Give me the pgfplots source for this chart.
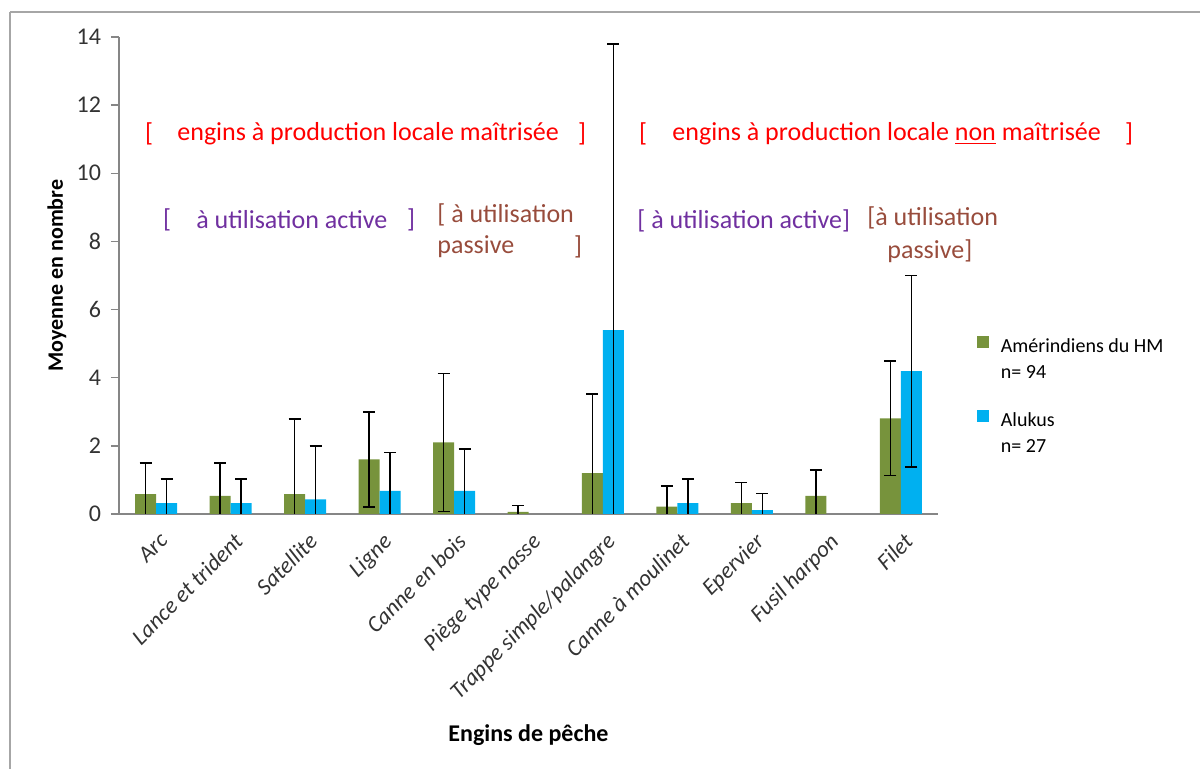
\documentclass[border=0pt]{standalone}
\usepackage{fontspec}
\setmainfont{Carlito}
\usepackage{pgfplots}
\pgfplotsset{compat=1.18}
\definecolor{cgreen}{HTML}{77933C}
\definecolor{cblue}{HTML}{00B0F0}
\definecolor{cred}{HTML}{FF0000}
\definecolor{cpurple}{HTML}{7030A0}
\definecolor{cbrown}{HTML}{984C3C}
\definecolor{caxis}{HTML}{868686}
\definecolor{cframe}{HTML}{A6A6A6}
\begin{document}
\begin{tikzpicture}
\useasboundingbox (0pt,0pt) rectangle (600pt,-384.5pt);
\begin{axis}[
  at={(59.5pt,-257pt)}, anchor=south west,
  scale only axis, width=409.5pt, height=238.5pt,
  ymin=0, ymax=14, ytick={0,2,...,14},
  xmin=-0.5, xmax=10.5,
  axis x line=bottom, axis y line=left,
  axis line style={caxis, line width=0.75pt, -},
  ybar=0pt, bar width=10.5pt,
  xtick={0,...,10},
  xticklabels={Arc,Lance et trident,Satellite,Ligne,Canne en bois,Piège type nasse,Trappe simple/palangre,Canne à moulinet,Epervier,Fusil harpon,Filet},
  x tick label style={rotate=45, anchor=north east, font=\fontsize{11.5}{13}\selectfont\itshape, text=black!80, inner sep=1pt, xshift=-1.5pt, yshift=-3pt},
  major x tick style={draw=none},
  extra x ticks={-0.5,0.5,...,10.5}, extra x tick labels={},
  extra x tick style={major tick length=4pt, tick align=outside, tick style={caxis, line width=0.75pt}},
  y tick label style={font=\fontsize{12}{14}\selectfont, text=black!80, xshift=-1.5pt},
  /pgf/number format/assume math mode=true,
  major y tick style={caxis, line width=0.75pt},
  tick align=outside, major tick length=4pt,
  ylabel={\bfseries Moyenne en nombre},
  ylabel style={font=\fontsize{11}{13}\selectfont, at={(axis description cs:-0.0757,0.5)}, anchor=center},
  xlabel={\bfseries Engins de pêche},
  xlabel style={font=\fontsize{12}{14}\selectfont, at={(axis description cs:0.5,-0.463)}, anchor=center},
  error bars/error bar style={black, line width=0.75pt},
  error bars/error mark options={black, line width=0.75pt, mark size=3pt, rotate=90},
  legend style={at={(axis description cs:1.047,0.385)}, anchor=north west, draw=none, fill=none,
    font=\fontsize{10}{13}\selectfont, row sep=22pt, column sep=4pt, inner sep=0pt},
  legend cell align=left,
  legend image code/.code={\fill[#1] (0pt,-1.5pt) rectangle (6pt,4.5pt);},
  clip=true,
]
\addplot+[fill=cgreen, draw=none, error bars/.cd, y dir=both, y explicit] coordinates {
  (0,0.58) +- (0,0.91)
  (1,0.53) +- (0,0.96)
  (2,0.58) +- (0,2.21)
  (3,1.60) +- (0,1.39)
  (4,2.10) +- (0,2.02)
  (5,0.06) +- (0,0.19)
  (6,1.20) +- (0,2.32)
  (7,0.22) +- (0,0.60)
  (8,0.32) +- (0,0.60)
  (9,0.53) +- (0,0.76)
  (10,2.81) +- (0,1.68)
};
\addlegendentry{\begin{tabular}[t]{@{}l@{}}Amérindiens du HM\\n= 94\end{tabular}}
\addplot+[fill=cblue, draw=none, error bars/.cd, y dir=both, y explicit] coordinates {
  (0,0.32) +- (0,0.71)
  (1,0.32) +- (0,0.71)
  (2,0.43) +- (0,1.57)
  (3,0.68) +- (0,1.12)
  (4,0.68) +- (0,1.23)
  (6,5.40) +- (0,8.40)
  (7,0.32) +- (0,0.71)
  (8,0.11) +- (0,0.49)
  (10,4.19) +- (0,2.81)
};
\addlegendentry{\begin{tabular}[t]{@{}l@{}}Alukus\\n= 27\end{tabular}}
\end{axis}
\begin{scope}[x=0.5pt,y=-0.5pt, every node/.style={font=\fontsize{13}{15}\selectfont, inner sep=0pt}]
\draw[cframe, line width=1pt] (10,12) -- (1200,12);
\draw[cframe, line width=1pt] (10,12) -- (10,769);
\node[text=cred] at (149,134) {[};
\node[text=cred, anchor=west] at (177,134) {engins à production locale maîtrisée};
\node[text=cred] at (582,134) {]};
\node[text=cred] at (643,134) {[};
\node[text=cred, anchor=west] at (672,134) {engins à production locale \underline{non} maîtrisée};
\node[text=cred] at (1129,134) {]};
\node[text=cpurple] at (167,220) {[};
\node[text=cpurple, anchor=west] at (196,220) {à utilisation active};
\node[text=cpurple] at (411,220) {]};
\node[text=cbrown, anchor=west] at (437,215) {[ à utilisation};
\node[text=cbrown, anchor=west] at (437,247) {passive};
\node[text=cbrown] at (578,247) {]};
\node[text=cpurple, anchor=west] at (637,221) {[ à utilisation active]};
\node[text=cbrown, anchor=west] at (867,218) {[à utilisation};
\node[text=cbrown, anchor=west] at (887,251) {passive]};
\end{scope}
\end{tikzpicture}
\end{document}
